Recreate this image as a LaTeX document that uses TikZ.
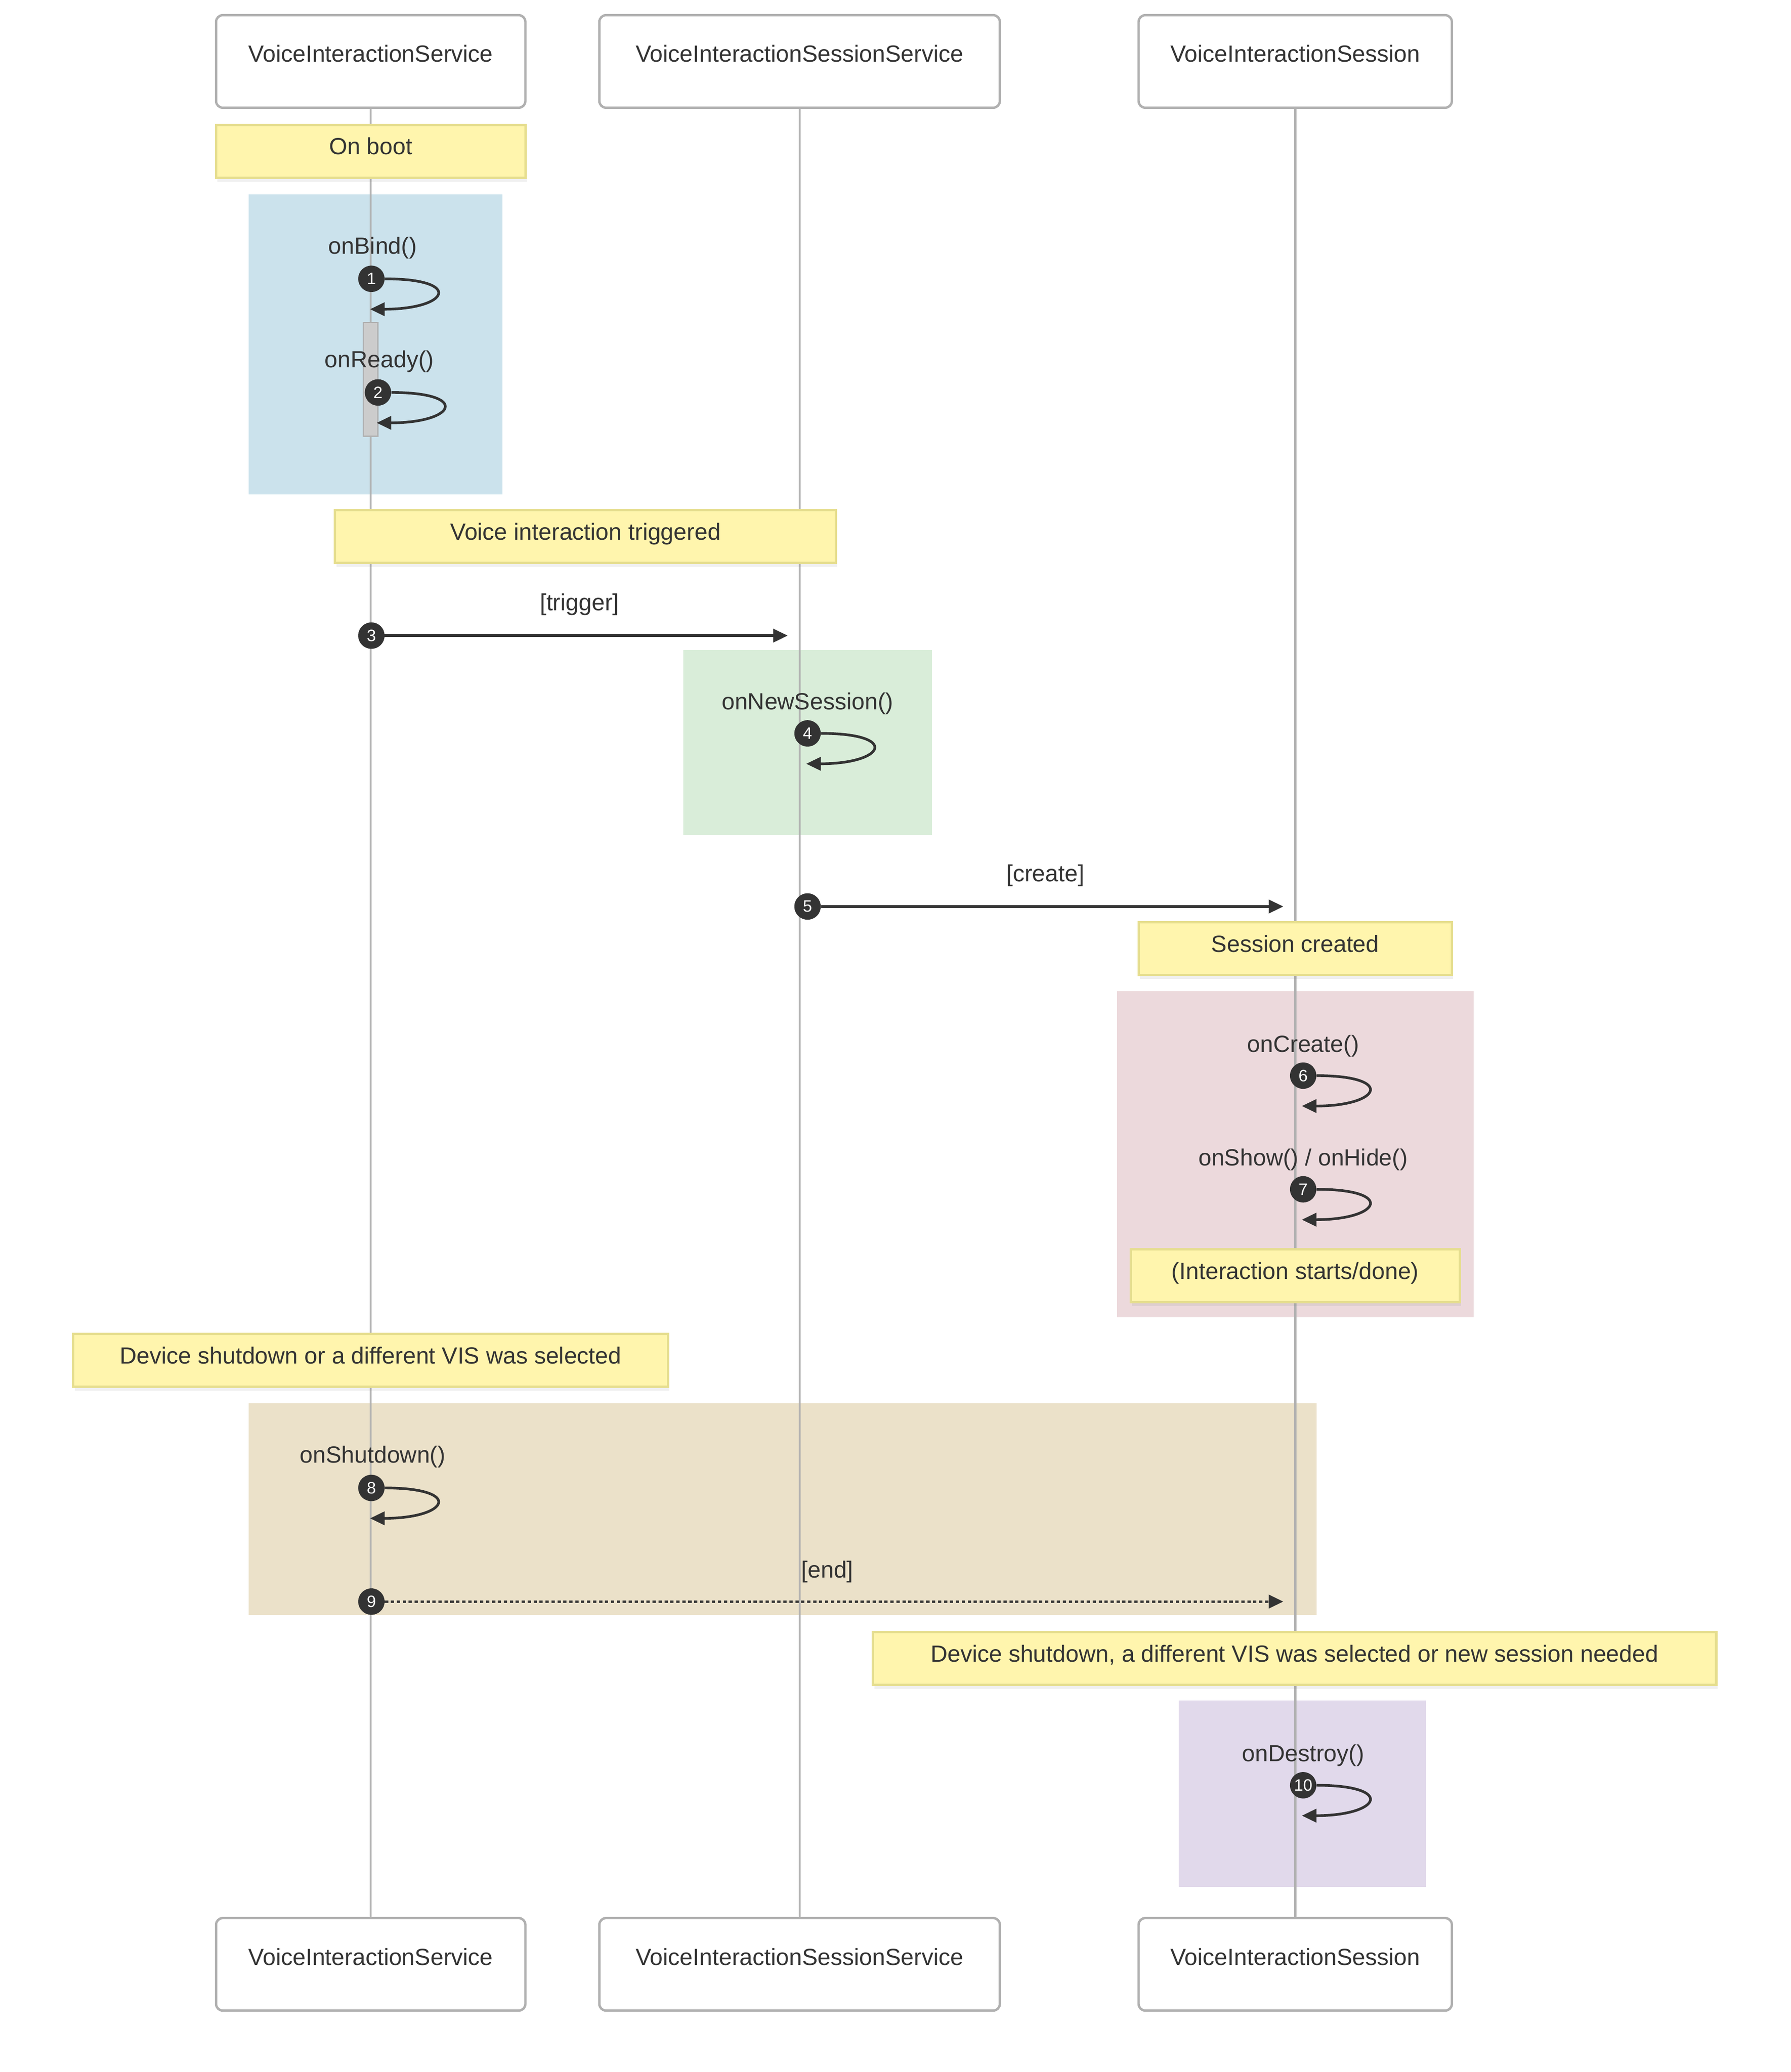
\documentclass[tikz,border=0pt]{standalone}
\usepackage{fontspec}
\setmainfont{Liberation Sans}
\usepackage{tikz}
\usetikzlibrary{arrows.meta}
\usetikzlibrary{shadows}

\definecolor{linegray}{HTML}{B0B0B0}
\definecolor{inkgray}{HTML}{333333}
\definecolor{barfill}{HTML}{CCCCCC}
\definecolor{notefill}{HTML}{FFF5AD}
\definecolor{notedraw}{HTML}{E6DE8F}
\definecolor{bootblue}{HTML}{CBE2EC}
\definecolor{sessgreen}{HTML}{D9EDD9}
\definecolor{createpink}{HTML}{ECD9DC}
\definecolor{shuttan}{HTML}{EBE1C9}
\definecolor{destroylav}{HTML}{E1D9EB}

\begin{document}
\begin{tikzpicture}[x=1pt,y=-1pt,font=\fontsize{17.7}{21}\selectfont,text=inkgray]
		\useasboundingbox (0,0) rectangle (1355,1568);

		% coloured blocks
		\fill[bootblue] (188,147) rectangle (380,374);
		\fill[sessgreen] (517,492) rectangle (705,632);
		\fill[createpink] (845,750) rectangle (1115,997);
		\fill[shuttan] (188,1062) rectangle (996,1222);
		\fill[destroylav] (892,1287) rectangle (1079,1428);

		\begin{scope}[every node/.style={rectangle,rounded corners=5pt,draw=linegray,line width=1.8pt,fill=white,minimum height=70pt,text height=12pt,text depth=11pt}]
			\node[minimum width=234pt] (vis) at (280.5,46.5) {VoiceInteractionService};
			\node[minimum width=303pt] (viss) at (605,46.5) {VoiceInteractionSessionService};
			\node[minimum width=237pt] (vs) at (980,46.5) {VoiceInteractionSession};
			\node[minimum width=234pt] (vis') at (280.5,1486.5) {VoiceInteractionService};
			\node[minimum width=303pt] (viss') at (605,1486.5) {VoiceInteractionSessionService};
			\node[minimum width=237pt] (vs') at (980,1486.5) {VoiceInteractionSession};
		\end{scope}

		\begin{scope}[every edge/.style={draw=linegray,line width=1.6pt}]
			\path (vis) edge (vis');
			\path (viss) edge (viss');
			\path (vs) edge (vs');
		\end{scope}

		\node[draw=linegray,fill=barfill,line width=1pt,inner sep=0pt,minimum width=11pt,minimum height=86pt] (bar) at (280.5,287) {};

		\begin{scope}[every node/.style={rectangle,fill=notefill,draw=notedraw,line width=1.8pt,minimum height=40pt,text height=12pt,text depth=7pt,
		              drop shadow={opacity=0.12,shadow xshift=1pt,shadow yshift=-3pt}}]
			\node[minimum width=234pt] (boot) at (280.5,114.5) {On boot};
			\node[minimum width=379pt] (trig) at (443,406) {Voice interaction triggered};
			\node[minimum width=237pt] (made) at (980,718) {Session created};
			\node[minimum width=249pt] (talk) at (980,965.5) {(Interaction starts/done)};
			\node[minimum width=450pt] (down) at (280.5,1029.5) {Device shutdown or a different VIS was selected};
			\node[minimum width=638pt] (gone) at (979.5,1255) {Device shutdown, a different VIS was selected or new session needed};
		\end{scope}

		% message labels
		\node (bind) at (282,187.5) {onBind()};
		\node (ready) at (287,273.5) {onReady()};
		\node (trigger) at (438.5,457.5) {[trigger]};
		\node (new) at (611,532.5) {onNewSession()};
		\node (create) at (791,662.5) {[create]};
		\node (oncreate) at (986,791.5) {onCreate()};
		\node (show) at (986,877.5) {onShow() / onHide()};
		\node (shut) at (282,1102.5) {onShutdown()};
		\node (end) at (626,1189.5) {[end]};
		\node (destroy) at (986,1328.5) {onDestroy()};

		\begin{scope}[every node/.style={circle,fill=inkgray,text=white,inner sep=0pt,minimum size=20pt,font=\fontsize{12.5}{14}\selectfont}]
			\node (1) at (281,211) {1};
			\node (2) at (286,297) {2};
			\node (3) at (281,481) {3};
			\node (4) at (611,555) {4};
			\node (5) at (611,686) {5};
			\node (6) at (986,814) {6};
			\node (7) at (986,900) {7};
			\node (8) at (281,1126) {8};
			\node (9) at (281,1212) {9};
			\node (10) at (986,1351) {10};
		\end{scope}

		\coordinate (r1) at (280,234);
		\coordinate (r2) at (285,320);
		\coordinate (r3) at (596,481);
		\coordinate (r4) at (610,578);
		\coordinate (r5) at (971,686);
		\coordinate (r6) at (985,837);
		\coordinate (r7) at (985,923);
		\coordinate (r8) at (280,1149);
		\coordinate (r9) at (971,1212);
		\coordinate (r10) at (985,1374);

		\begin{scope}[>={Triangle[length=11pt,width=10pt]},
		              every edge/.style={draw=inkgray,line width=2pt},
		              loop/.style={out=0,in=0,looseness=6}]
			\path (1) edge[->,loop] (r1);
			\path (2) edge[->,loop] (r2);
			\path (3) edge[->] (r3);
			\path (4) edge[->,loop] (r4);
			\path (5) edge[->] (r5);
			\path (6) edge[->,loop] (r6);
			\path (7) edge[->,loop] (r7);
			\path (8) edge[->,loop] (r8);
			\path (9) edge[->,dash pattern=on 2.5pt off 2pt] (r9);
			\path (10) edge[->,loop] (r10);
		\end{scope}
\end{tikzpicture}
\end{document}
